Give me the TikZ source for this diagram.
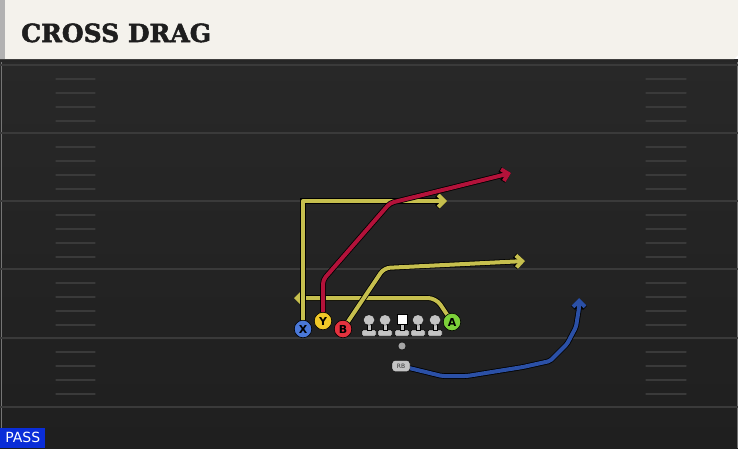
\documentclass[tikz,border=0pt]{standalone}
\usepackage{fontspec}
\usetikzlibrary{arrows.meta}
\newfontfamily\titlefont[BoldFont={* Bold},BoldFeatures={FakeBold=2}]{DejaVu Serif}
\newfontfamily\labelfont{DejaVu Sans}
\definecolor{fieldtop}{HTML}{282828}
\definecolor{fieldbot}{HTML}{1F1F1F}
\definecolor{yardclr}{HTML}{3A3A3A}
\definecolor{hashclr}{HTML}{3A3A3A}
\definecolor{titlebg}{HTML}{F4F2EC}
\definecolor{titleink}{HTML}{1E1E1E}
\definecolor{yroute}{HTML}{C6BF4E}
\definecolor{rroute}{HTML}{B3123A}
\definecolor{broute}{HTML}{2B50A6}
\definecolor{xblue}{HTML}{4A78D8}
\definecolor{yyellow}{HTML}{F0C828}
\definecolor{bred}{HTML}{E5323E}
\definecolor{agreen}{HTML}{7CD03A}
\definecolor{mangray}{HTML}{C4C4C4}
\definecolor{passblue}{HTML}{0A2DD8}
\pgfdeclarelayer{field}
\pgfdeclarelayer{routes}
\pgfsetlayers{field,routes,main}

\tikzset{
  lineman/.pic={
    \fill[mangray,draw=black,line width=0.4pt,rounded corners=1pt] (-7,0) rectangle (7,-6);
    \fill[mangray,draw=black,line width=0.4pt] (-2.2,-6) rectangle (2.2,-12);
    \fill[mangray,draw=black,line width=0.4pt,rounded corners=4.5pt] (-5.5,-11) rectangle (5.5,-21);
  },
  center/.pic={
    \fill[mangray,draw=black,line width=0.4pt,rounded corners=1pt] (-7,0) rectangle (7,-6);
    \fill[mangray,draw=black,line width=0.4pt] (-2.2,-6) rectangle (2.2,-12);
    \fill[white,draw=black,line width=0.4pt] (-5,-12) rectangle (5,-22);
  }
}

\begin{document}
\begin{tikzpicture}
        [x=1pt,y=-1pt,
         route/.style={line width=4pt,line join=round,preaction={draw=black,line width=5.6pt},
           -{Straight Barb[length=6pt,width=12pt]}},
         player/.style={draw=black,circle,inner sep=0,minimum size=17.5pt,line width=0.6pt,
           font=\labelfont\bfseries\fontsize{11}{11}\selectfont},
         yard/.style={draw=yardclr,line width=1.6pt},
         hash/.style={draw=hashclr,line width=1.3pt}]

        \useasboundingbox (0,0) rectangle (738,448);

        \begin{pgfonlayer}{field}
          % field
          \shade[top color=fieldtop,bottom color=fieldbot] (0,59) rectangle (738,448);
          \fill[black!85] (0,59) rectangle (738,62);
          \draw[yardclr!70,line width=1pt] (1,62) -- (1,448);
          \draw[yardclr!70,line width=1pt] (737,62) -- (737,448);
          \foreach \y in {65,133,201,269,338,407}
            \draw[yard] (0,\y) -- (738,\y);
          \foreach \y in {65,133,201,269,338} {
            \foreach \k in {1,...,4} {
              \draw[hash,line cap=round] (56,\y+14*\k) -- (95,\y+14*\k);
              \draw[hash,line cap=round] (646,\y+14*\k) -- (686,\y+14*\k);
            }
          }

          % title bar
          \fill[titlebg] (0,0) -- (738,0) -- (738,55) -- (734,59) -- (0,59) -- cycle;
          \fill[gray!60] (0,0) rectangle (5,59);
        \end{pgfonlayer}
        \node[anchor=base west,inner sep=0,text=titleink,font=\titlefont\bfseries\fontsize{25}{25}\selectfont]
          (title) at (21,42) {CROSS DRAG};

        % formation
        \node[player,fill=xblue] (X) at (303,329) {X};
        \node[player,fill=yyellow] (Y) at (323,321) {Y};
        \node[player,fill=bred] (B) at (343,329) {B};
        \node[player,fill=agreen] (A) at (452,322) {A};
        \pic at (369,336) {lineman};
        \pic at (385,336) {lineman};
        \pic at (402,336) {center};
        \pic at (418,336) {lineman};
        \pic at (435,336) {lineman};
        \node[circle,fill=gray!70,draw=black,line width=0.4pt,inner sep=0,minimum size=8pt] (QB) at (402,346) {};
        \node[fill=mangray,draw=black,line width=0.4pt,rounded corners=3pt,inner sep=0,
          minimum width=18pt,minimum height=11pt,font=\labelfont\fontsize{6}{6}\selectfont,text=black!80]
          (RB) at (401,366) {RB};

        % routes
        \coordinate (xend) at (447,201);
        \coordinate (aend) at (294,298);
        \coordinate (bend) at (525,261);
        \coordinate (yend) at (511,173);
        \coordinate (rbend) at (579,298);
        \begin{pgfonlayer}{routes}
          \draw[route,yroute,rounded corners=8pt] (A.center) -- (436,298) -- (aend);
          \draw[route,yroute] (X.center) |- (xend);
          \draw[route,yroute,rounded corners=6pt] (B.center) -- (384,268) -- (bend);
          \draw[route,rroute,rounded corners=4pt] (Y.center) -- (323,280) -- (390,203) -- (yend);
          \draw[route,broute,rounded corners=2pt] (RB.center) -- (442,376) -- (467,376) -- (523,367)
            -- (550,361) -- (567,344) -- (576,327) -- (579,308) -- (rbend);
        \end{pgfonlayer}

        % play type
        \node[fill=passblue,anchor=south west,inner sep=0,minimum width=45pt,minimum height=20pt,
          text=white,font=\labelfont\fontsize{14}{14}\selectfont] (pass) at (0,448) {PASS};
      \end{tikzpicture}
\end{document}
